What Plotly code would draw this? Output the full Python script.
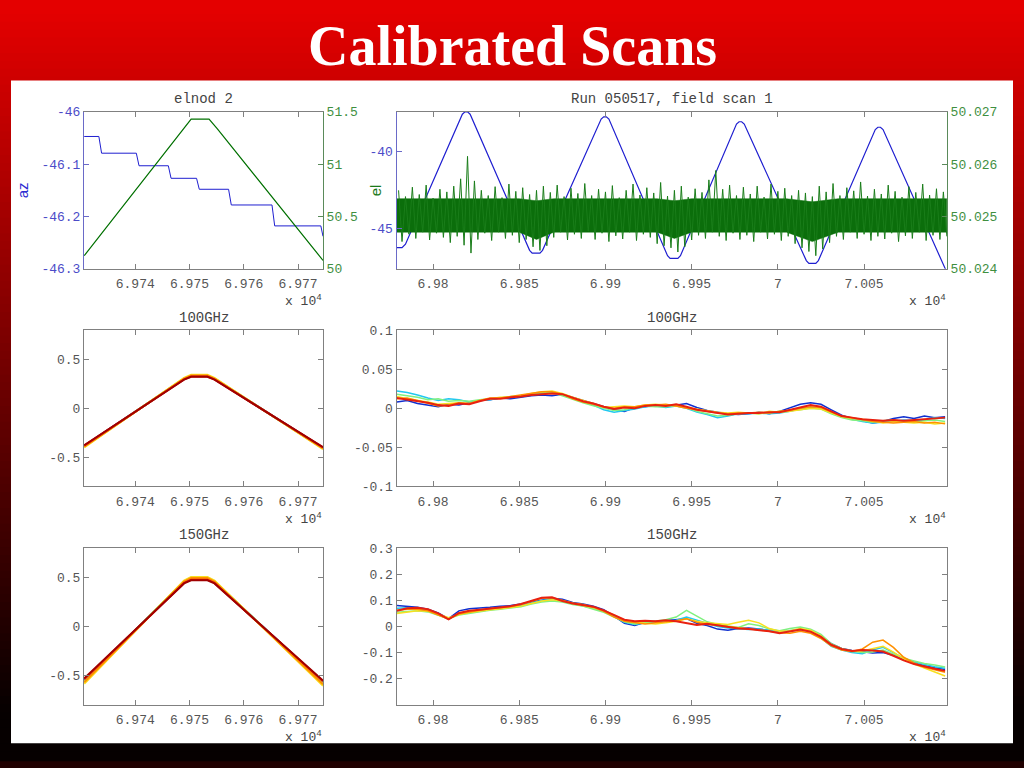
import plotly.graph_objects as go

W, H = 1024, 768

# ---------------- data ----------------
# elnod 2 : az (staircase) and el (ramp)
elnod_az_t = [69730.6, 69733.3, 69733.8, 69740.2, 69740.7, 69746.1, 69746.6, 69751.3,
              69751.8, 69757.2, 69757.7, 69765.2, 69765.7, 69774.2, 69774.6]
elnod_az = [-46.047, -46.047, -46.079, -46.079, -46.103, -46.103, -46.127, -46.127,
            -46.148, -46.148, -46.178, -46.178, -46.218, -46.218, -46.238]
elnod_el_t = [69730.6, 69748.8, 69750.3, 69753.6, 69755.1, 69774.6]
elnod_el = [50.125, 51.34, 51.43, 51.43, 51.34, 50.08]

# field scan 1 : az (triangle wave turning points)
scan_az_t = [69778.8, 69782.0, 69784.0, 69817.0, 69818.5, 69820.0, 69821.5,
             69856.0, 69857.5, 69862.0, 69863.5, 69897.5, 69899.0, 69900.5, 69902.0,
             69936.0, 69937.5, 69942.0, 69943.5, 69976.0, 69977.5, 69979.0, 69980.5,
             70016.5, 70018.0, 70022.0, 70023.5, 70056.5, 70058.0, 70059.5, 70061.0, 70098.0]
scan_az = [-46.28, -46.28, -46.05, -37.60, -37.45, -37.45, -37.60,
           -46.45, -46.63, -46.63, -46.45, -37.92, -37.77, -37.77, -37.92,
           -46.80, -46.98, -46.98, -46.80, -38.24, -38.09, -38.09, -38.24,
           -47.12, -47.30, -47.30, -47.12, -38.60, -38.45, -38.45, -38.60, -47.88]

# field scan 1 : el noise extremes (every 4 samples: high, then low 2 samples later)
scan_el_t = list(range(69780, 70097, 4))
scan_el_hi = [50.02550, 50.02538, 50.02556, 50.02542, 50.02560, 50.02535, 50.02552, 50.02547,
              50.02558, 50.02572, 50.02615, 50.02568, 50.02550, 50.02540, 50.02557, 50.02536,
              50.02562, 50.02548, 50.02555, 50.02542, 50.02550, 50.02558, 50.02546, 50.02560,
              50.02538, 50.02554, 50.02544, 50.02563, 50.02540, 50.02552, 50.02547, 50.02559,
              50.02536, 50.02550, 50.02562, 50.02541, 50.02555, 50.02545, 50.02565, 50.02539,
              50.02550, 50.02558, 50.02537, 50.02553, 50.02546, 50.02570, 50.02588, 50.02552,
              50.02560, 50.02540, 50.02556, 50.02543, 50.02558, 50.02537, 50.02562, 50.02548,
              50.02554, 50.02540, 50.02550, 50.02545, 50.02538, 50.02558, 50.02547, 50.02563,
              50.02540, 50.02555, 50.02549, 50.02566, 50.02539, 50.02552, 50.02543, 50.02560,
              50.02548, 50.02537, 50.02557, 50.02546, 50.02562, 50.02541, 50.02553, 50.02547]
scan_el_lo = [50.02452, 50.02466, 50.02458, 50.02470, 50.02455, 50.02468, 50.02460, 50.02450,
              50.02462, 50.02445, 50.02430, 50.02456, 50.02468, 50.02454, 50.02470, 50.02458,
              50.02464, 50.02450, 50.02456, 50.02442, 50.02435, 50.02444, 50.02460, 50.02470,
              50.02455, 50.02466, 50.02458, 50.02472, 50.02456, 50.02468, 50.02452, 50.02463,
              50.02457, 50.02470, 50.02454, 50.02466, 50.02460, 50.02448, 50.02444, 50.02440,
              50.02432, 50.02442, 50.02455, 50.02464, 50.02458, 50.02470, 50.02462, 50.02454,
              50.02468, 50.02456, 50.02464, 50.02452, 50.02470, 50.02457, 50.02466, 50.02454,
              50.02462, 50.02448, 50.02440, 50.02433, 50.02425, 50.02438, 50.02450, 50.02462,
              50.02456, 50.02470, 50.02458, 50.02466, 50.02454, 50.02462, 50.02457, 50.02468,
              50.02452, 50.02463, 50.02458, 50.02470, 50.02454, 50.02464, 50.02456, 50.02462]
# dense core of the el noise
scan_core_t = [69778.8, 69850, 69860, 69870, 69930, 69940, 69950, 70005, 70020, 70035, 70098]
scan_core_hi = [50.02534, 50.02534, 50.02530, 50.02534, 50.02534, 50.02530, 50.02534, 50.02534, 50.02528, 50.02534, 50.02534]
scan_core_lo = [50.02470, 50.02470, 50.02456, 50.02470, 50.02470, 50.02458, 50.02470, 50.02470, 50.02452, 50.02470, 50.02470]

# detector responses during elnod (turning points), channels blue -> dark red
elnod_det_t = [69730.6, 69749.0, 69750.3, 69753.3, 69754.6, 69774.6]
elnod100 = [
    [-0.385, 0.300, 0.330, 0.330, 0.300, -0.405],
    [-0.390, 0.302, 0.333, 0.333, 0.302, -0.410],
    [-0.392, 0.305, 0.336, 0.336, 0.305, -0.412],
    [-0.400, 0.310, 0.342, 0.342, 0.310, -0.420],
    [-0.392, 0.302, 0.334, 0.334, 0.302, -0.412],
    [-0.382, 0.295, 0.325, 0.325, 0.295, -0.402],
    [-0.378, 0.292, 0.322, 0.322, 0.292, -0.398],
]
elnod150 = [
    [-0.545, 0.450, 0.485, 0.485, 0.450, -0.565],
    [-0.555, 0.458, 0.492, 0.492, 0.458, -0.575],
    [-0.565, 0.465, 0.500, 0.500, 0.465, -0.585],
    [-0.585, 0.470, 0.505, 0.505, 0.470, -0.605],
    [-0.570, 0.460, 0.495, 0.495, 0.460, -0.590],
    [-0.540, 0.445, 0.478, 0.478, 0.445, -0.560],
    [-0.530, 0.440, 0.472, 0.472, 0.440, -0.552],
]
elnod_colors = ["#1030d0", "#20c8f0", "#80f080", "#f8e020", "#ff9000", "#e82010", "#a00000"]

# detector timestreams during field scan (every 6 samples), channels blue -> red
scan_det_t = list(range(69779, 70098, 6))
scan100 = [
    [0.008, 0.010, 0.006, 0.004, 0.002, 0.005, 0.004, 0.007, 0.010, 0.011, 0.013, 0.012, 0.014, 0.016,
     0.017, 0.016, 0.018, 0.014, 0.010, 0.005, 0.001, -0.002, -0.004, 0.001, 0.002, 0.004, 0.002, 0.004,
     0.006, 0.001, -0.003, -0.005, -0.007, -0.008, -0.007, -0.005, -0.007, -0.004, 0.001, 0.005, 0.007,
     0.005, -0.002, -0.009, -0.013, -0.016, -0.019, -0.017, -0.013, -0.011, -0.013, -0.010, -0.012, -0.011],
    [0.022, 0.020, 0.017, 0.013, 0.010, 0.012, 0.011, 0.008, 0.010, 0.011, 0.013, 0.014, 0.016, 0.018,
     0.019, 0.021, 0.017, 0.012, 0.008, 0.004, -0.002, -0.005, -0.003, -0.001, 0.002, 0.003, 0.001, 0.003,
     0.000, -0.005, -0.008, -0.012, -0.010, -0.007, -0.007, -0.006, -0.007, -0.006, -0.004, -0.001, 0.001,
     0.000, -0.006, -0.011, -0.014, -0.017, -0.019, -0.018, -0.017, -0.015, -0.016, -0.015, -0.012, -0.013],
    [0.018, 0.016, 0.014, 0.011, 0.012, 0.009, 0.010, 0.009, 0.011, 0.012, 0.013, 0.015, 0.016, 0.017,
     0.020, 0.020, 0.016, 0.011, 0.007, 0.003, 0.000, -0.003, -0.002, 0.001, 0.003, 0.002, 0.002, 0.004,
     0.001, -0.004, -0.007, -0.010, -0.009, -0.007, -0.006, -0.007, -0.006, -0.004, -0.003, -0.002, 0.000,
     -0.001, -0.007, -0.012, -0.015, -0.016, -0.018, -0.016, -0.015, -0.017, -0.018, -0.016, -0.015, -0.017],
    [0.015, 0.012, 0.010, 0.008, 0.005, 0.006, 0.007, 0.006, 0.010, 0.012, 0.014, 0.014, 0.016, 0.019,
     0.021, 0.022, 0.019, 0.014, 0.010, 0.006, 0.001, 0.002, 0.003, 0.002, 0.004, 0.005, 0.004, 0.003,
     0.001, -0.001, -0.003, -0.005, -0.006, -0.005, -0.006, -0.007, -0.004, -0.005, -0.004, -0.002, 0.000,
     -0.001, -0.006, -0.011, -0.013, -0.014, -0.016, -0.019, -0.017, -0.018, -0.019, -0.018, -0.020, -0.019],
    [0.012, 0.013, 0.010, 0.006, 0.003, 0.004, 0.007, 0.006, 0.010, 0.013, 0.013, 0.015, 0.017, 0.019,
     0.021, 0.021, 0.018, 0.012, 0.008, 0.005, 0.002, 0.000, 0.002, 0.002, 0.004, 0.004, 0.005, 0.003,
     0.000, -0.002, -0.004, -0.006, -0.007, -0.006, -0.006, -0.005, -0.006, -0.004, -0.003, 0.000, 0.002,
     0.001, -0.005, -0.010, -0.012, -0.015, -0.017, -0.018, -0.019, -0.018, -0.017, -0.019, -0.018, -0.020],
    [0.013, 0.011, 0.009, 0.007, 0.004, 0.003, 0.006, 0.005, 0.009, 0.012, 0.012, 0.014, 0.015, 0.017,
     0.018, 0.019, 0.018, 0.013, 0.009, 0.006, 0.002, -0.001, 0.001, 0.000, 0.003, 0.004, 0.003, 0.005,
     0.002, -0.002, -0.004, -0.006, -0.008, -0.007, -0.006, -0.006, -0.005, -0.005, -0.002, 0.001, 0.004,
     0.002, -0.004, -0.010, -0.012, -0.014, -0.015, -0.016, -0.015, -0.016, -0.015, -0.014, -0.013, -0.012],
]
scan150 = [
    [0.080, 0.076, 0.074, 0.066, 0.052, 0.030, 0.060, 0.068, 0.070, 0.074, 0.078, 0.080, 0.086, 0.094,
     0.102, 0.108, 0.104, 0.092, 0.086, 0.078, 0.064, 0.040, 0.012, 0.004, 0.016, 0.020, 0.022, 0.026,
     0.030, 0.012, 0.004, -0.010, -0.014, -0.008, -0.006, -0.010, -0.016, -0.020, -0.018, -0.012, -0.016,
     -0.036, -0.066, -0.084, -0.092, -0.096, -0.102, -0.100, -0.110, -0.128, -0.140, -0.150, -0.158, -0.165],
    [0.070, 0.072, 0.068, 0.060, 0.046, 0.028, 0.050, 0.058, 0.062, 0.066, 0.070, 0.074, 0.080, 0.090,
     0.100, 0.104, 0.096, 0.086, 0.080, 0.070, 0.058, 0.040, 0.016, 0.008, 0.014, 0.018, 0.020, 0.024,
     0.036, 0.024, 0.010, 0.000, -0.006, -0.010, -0.012, -0.010, -0.014, -0.022, -0.016, -0.010, -0.020,
     -0.044, -0.076, -0.090, -0.100, -0.104, -0.090, -0.080, -0.100, -0.122, -0.136, -0.146, -0.154, -0.160],
    [0.055, 0.058, 0.060, 0.056, 0.044, 0.030, 0.044, 0.050, 0.058, 0.062, 0.066, 0.070, 0.076, 0.086,
     0.094, 0.098, 0.094, 0.084, 0.078, 0.066, 0.054, 0.036, 0.018, 0.010, 0.016, 0.022, 0.026, 0.036,
     0.062, 0.040, 0.018, 0.008, 0.002, -0.004, 0.010, 0.004, -0.010, -0.016, -0.008, -0.002, -0.010,
     -0.030, -0.066, -0.084, -0.094, -0.100, -0.098, -0.090, -0.106, -0.122, -0.132, -0.142, -0.148, -0.155],
    [0.050, 0.056, 0.060, 0.058, 0.048, 0.034, 0.046, 0.054, 0.060, 0.064, 0.068, 0.072, 0.078, 0.088,
     0.098, 0.102, 0.098, 0.088, 0.080, 0.072, 0.060, 0.044, 0.024, 0.016, 0.012, 0.010, 0.014, 0.020,
     0.030, 0.020, 0.014, 0.010, 0.008, 0.016, 0.024, 0.014, -0.008, -0.018, -0.016, -0.008, -0.014,
     -0.036, -0.070, -0.088, -0.096, -0.094, -0.086, -0.076, -0.098, -0.124, -0.144, -0.160, -0.176, -0.190],
    [0.062, 0.066, 0.066, 0.060, 0.044, 0.028, 0.048, 0.056, 0.062, 0.068, 0.072, 0.076, 0.084, 0.096,
     0.108, 0.110, 0.100, 0.090, 0.084, 0.074, 0.058, 0.036, 0.020, 0.014, 0.010, 0.014, 0.018, 0.022,
     0.030, 0.016, 0.008, 0.006, 0.000, -0.004, -0.008, -0.012, -0.018, -0.024, -0.026, -0.018, -0.026,
     -0.046, -0.074, -0.090, -0.096, -0.086, -0.060, -0.052, -0.080, -0.118, -0.140, -0.156, -0.166, -0.175],
    [0.060, 0.070, 0.072, 0.066, 0.050, 0.027, 0.052, 0.060, 0.064, 0.068, 0.074, 0.078, 0.086, 0.098,
     0.110, 0.112, 0.098, 0.088, 0.082, 0.076, 0.062, 0.045, 0.026, 0.020, 0.022, 0.020, 0.024, 0.020,
     0.012, 0.006, 0.010, 0.004, -0.002, -0.008, -0.010, -0.014, -0.018, -0.026, -0.020, -0.012, -0.020,
     -0.040, -0.070, -0.086, -0.094, -0.090, -0.092, -0.096, -0.112, -0.130, -0.144, -0.154, -0.162, -0.170],
]
scan_colors = ["#1030d0", "#20c8f0", "#80f080", "#f8e020", "#ff9000", "#e82010"]

# axes ticks
elnod_xticks = [69740, 69750, 69760, 69770]
elnod_xtext = ["6.974", "6.975", "6.976", "6.977"]
scan_xticks = [69800, 69850, 69900, 69950, 70000, 70050]
scan_xtext = ["6.98", "6.985", "6.99", "6.995", "7", "7.005"]

# ---------------- layout geometry ----------------
def px_x(p):
    return p / W

def px_y(p):
    return 1 - p / H

LCOL = [px_x(84), px_x(323)]
RCOL = [px_x(396.5), px_x(947)]
ROW1 = [px_y(268), px_y(108)]
ROW2 = [px_y(490), px_y(330.5)]
ROW3 = [px_y(712.7), px_y(553)]

MONO = "Liberation Mono"
AXC = "#808080"
TXC = "#555555"
BLUE_T = "#4b4bc8"
GREEN_T = "#3f8f3f"

fig = go.Figure()

# top-left
fig.add_trace(go.Scatter(x=elnod_az_t, y=elnod_az, mode="lines", line=dict(color="#1f1fd0", width=1),
                         xaxis="x", yaxis="y"))
fig.add_trace(go.Scatter(x=elnod_el_t, y=elnod_el, mode="lines", line=dict(color="#007000", width=1.2),
                         xaxis="x", yaxis="y2"))
# top-right
fig.add_trace(go.Scatter(x=scan_az_t, y=scan_az, mode="lines", line=dict(color="#1f1fd0", width=1.2),
                         xaxis="x2", yaxis="y3"))
fig.add_trace(go.Scatter(x=scan_core_t, y=scan_core_hi, mode="lines", line=dict(color="#0b6e0b", width=0.5),
                         xaxis="x2", yaxis="y4"))
fig.add_trace(go.Scatter(x=scan_core_t, y=scan_core_lo, mode="lines", line=dict(color="#0b6e0b", width=0.5),
                         fill="tonexty", fillcolor="#0b6e0b", xaxis="x2", yaxis="y4"))
zx, zy = [], []
for t, hi, lo in zip(scan_el_t, scan_el_hi, scan_el_lo):
    zx += [t, t + 2]
    zy += [hi, lo]
fig.add_trace(go.Scatter(x=zx, y=zy, mode="lines", line=dict(color="#1a7d1a", width=1),
                         xaxis="x2", yaxis="y4"))

# elnod detector panels
for vals, col in zip(elnod100, elnod_colors):
    fig.add_trace(go.Scatter(x=elnod_det_t, y=vals, mode="lines", line=dict(color=col, width=2),
                             xaxis="x3", yaxis="y5"))
for vals, col in zip(elnod150, elnod_colors):
    fig.add_trace(go.Scatter(x=elnod_det_t, y=vals, mode="lines", line=dict(color=col, width=2),
                             xaxis="x5", yaxis="y7"))
# scan detector panels
for i, (vals, col) in enumerate(zip(scan100, scan_colors)):
    fig.add_trace(go.Scatter(x=scan_det_t, y=vals, mode="lines",
                             line=dict(color=col, width=2 if i == len(scan100) - 1 else 1.5),
                             xaxis="x4", yaxis="y6"))
for i, (vals, col) in enumerate(zip(scan150, scan_colors)):
    fig.add_trace(go.Scatter(x=scan_det_t, y=vals, mode="lines",
                             line=dict(color=col, width=2 if i == len(scan150) - 1 else 1.5),
                             xaxis="x6", yaxis="y8"))


def xax(domain, anchor, rng, vals, text):
    return dict(domain=domain, anchor=anchor, range=rng, tickvals=vals, ticktext=text,
                ticks="inside", ticklen=5, tickcolor=AXC, showline=True, linecolor=AXC,
                linewidth=1, mirror="ticks", showgrid=False, zeroline=False,
                tickfont=dict(family=MONO, size=13, color=TXC), ticklabelstandoff=3)


def yax(domain, anchor, rng, vals, text, color=TXC, line=AXC, mirror="ticks", side="left",
        overlaying=None):
    d = dict(anchor=anchor, range=rng, tickvals=vals, ticktext=text,
             ticks="inside", ticklen=5, tickcolor=line, showline=True, linecolor=line,
             linewidth=1, mirror=mirror, showgrid=False, zeroline=False, side=side,
             tickfont=dict(family=MONO, size=13, color=color), ticklabelstandoff=0)
    if overlaying:
        d["overlaying"] = overlaying
    else:
        d["domain"] = domain
    return d


layout = dict(
    width=W, height=H, margin=dict(l=0, r=0, t=0, b=0),
    paper_bgcolor="#200000", plot_bgcolor="rgba(0,0,0,0)", showlegend=False,
    xaxis=xax(LCOL, "y", [69730.56, 69774.6], elnod_xticks, elnod_xtext),
    yaxis=yax(ROW1, "x", [-46.3, -46.0], [-46, -46.1, -46.2, -46.3], ["-46", "-46.1", "-46.2", "-46.3"],
              color=BLUE_T, line="#6a6ac8", mirror=False),
    yaxis2=yax(None, "x", [50, 51.5], [50, 50.5, 51, 51.5], ["50", "50.5", "51", "51.5"],
               color=GREEN_T, line="#5a8a5a", mirror=False, side="right", overlaying="y"),
    xaxis2=xax(RCOL, "y3", [69778.8, 70098.1], scan_xticks, scan_xtext),
    yaxis3=yax(ROW1, "x2", [-47.65, -37.45], [-40, -45], ["-40", "-45"],
               color=BLUE_T, line="#6a6ac8", mirror=False),
    yaxis4=yax(None, "x2", [50.024, 50.027], [50.024, 50.025, 50.026, 50.027],
               ["50.024", "50.025", "50.026", "50.027"],
               color=GREEN_T, line="#5a8a5a", mirror=False, side="right", overlaying="y3"),
    xaxis3=xax(LCOL, "y5", [69730.56, 69774.6], elnod_xticks, elnod_xtext),
    yaxis5=yax(ROW2, "x3", [-0.8, 0.8], [-0.5, 0, 0.5], ["-0.5", "0", "0.5"]),
    xaxis4=xax(RCOL, "y6", [69778.8, 70098.1], scan_xticks, scan_xtext),
    yaxis6=yax(ROW2, "x4", [-0.1, 0.1], [-0.1, -0.05, 0, 0.05, 0.1], ["-0.1", "-0.05", "0", "0.05", "0.1"]),
    xaxis5=xax(LCOL, "y7", [69730.56, 69774.6], elnod_xticks, elnod_xtext),
    yaxis7=yax(ROW3, "x5", [-0.8, 0.8], [-0.5, 0, 0.5], ["-0.5", "0", "0.5"]),
    xaxis6=xax(RCOL, "y8", [69778.8, 70098.1], scan_xticks, scan_xtext),
    yaxis8=yax(ROW3, "x6", [-0.3, 0.3], [-0.2, -0.1, 0, 0.1, 0.2, 0.3],
               ["-0.2", "-0.1", "0", "0.1", "0.2", "0.3"]),
)
fig.update_layout(**layout)

# background gradient (red -> black) and white panel
shapes = []
nb = 96
for k in range(nb):
    yc = (k + 0.5) * H / nb
    r = max(6, int(230 * (1 - yc / 740)))
    shapes.append(dict(type="rect", xref="paper", yref="paper", x0=-0.01, x1=1.01,
                       y0=1 - (k + 1) / nb - 0.003, y1=1 - k / nb + (0.02 if k == 0 else 0.0),
                       fillcolor=f"rgb({r},0,0)", line=dict(width=0), layer="below"))
shapes.append(dict(type="rect", xref="paper", yref="paper", x0=px_x(11), x1=px_x(1013),
                   y0=px_y(752), y1=px_y(76), fillcolor="white", line=dict(width=0), layer="below"))
fig.update_layout(shapes=shapes)

ann = []
ann.append(dict(text="<b>Calibrated Scans</b>", x=0.5, y=px_y(41), xref="paper", yref="paper",
                showarrow=False, xanchor="center", yanchor="middle",
                font=dict(family="Liberation Serif", size=56, color="white")))
titles = [("elnod 2", (84 + 323) / 2, 95), ("Run 050517, field scan 1", (396.5 + 947) / 2, 95),
          ("100GHz", (84 + 323) / 2, 318), ("100GHz", (396.5 + 947) / 2, 318),
          ("150GHz", (84 + 323) / 2, 540), ("150GHz", (396.5 + 947) / 2, 540)]
for t, x, y in titles:
    ann.append(dict(text=t, x=px_x(x), y=px_y(y), xref="paper", yref="paper", showarrow=False,
                    xanchor="center", yanchor="middle", font=dict(family=MONO, size=14, color="#444444")))
for x, y in [(324, 300), (948, 300), (324, 523), (948, 523), (324, 745), (948, 745)]:
    ann.append(dict(text="x 10<sup>4</sup>", x=px_x(x), y=px_y(y), xref="paper", yref="paper",
                    showarrow=False, xanchor="right", yanchor="middle",
                    font=dict(family=MONO, size=13, color="#444444")))
ann.append(dict(text="az", x=px_x(22), y=px_y(188), xref="paper", yref="paper", showarrow=False,
                textangle=-90, xanchor="center", yanchor="middle",
                font=dict(family="Liberation Sans", size=15, color="#2a2ad0")))
ann.append(dict(text="el", x=px_x(375), y=px_y(188), xref="paper", yref="paper", showarrow=False,
                textangle=-90, xanchor="center", yanchor="middle",
                font=dict(family="Liberation Sans", size=15, color="#1a7a1a")))
fig.update_layout(annotations=ann)

fig.write_html("out.html")
